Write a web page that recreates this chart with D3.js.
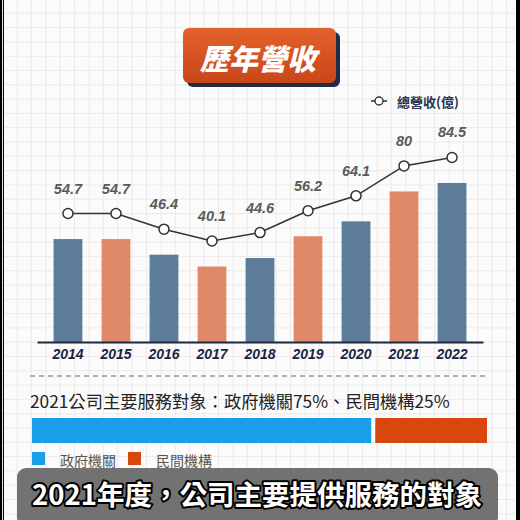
<!DOCTYPE html>
<html><head><meta charset="utf-8">
<script src="https://cdn.jsdelivr.net/npm/d3@7/dist/d3.min.js"></script>
<style>
html,body{margin:0;padding:0;background:#000;}
svg{display:block;}
</style></head>
<body>
<svg id="c" width="520" height="520"></svg>
<script>
const years = ["2014","2015","2016","2017","2018","2019","2020","2021","2022"];
const revenue = [54.7, 54.7, 46.4, 40.1, 44.6, 56.2, 64.1, 80, 84.5];
const barColors = ["#5d7c99", "#e0896a"];
const titleText = "歷年營收";
const legendText = "總營收(億)";
const shareTitle = "2021公司主要服務對象：政府機關75%、民間機構25%";
const shareNames = ["政府機關", "民間機構"];
const shareValues = [75, 25];
const shareColors = ["#1b9ee8", "#d9470f"];
const subtitle = "2021年度，公司主要提供服務的對象";

const svg = d3.select("#c");
const W = 520, H = 520;

// background card with grid
svg.append("rect").attr("x",0).attr("y",0).attr("width",W).attr("height",H).attr("fill","#000");
svg.append("rect").attr("x",4).attr("y",0).attr("width",512).attr("height",H).attr("fill","#fbfbfb");
const grid = svg.append("g").attr("stroke","#ebebeb").attr("stroke-width",1);
d3.range(2.5, 516, 14.4).forEach(x => grid.append("line").attr("x1",x).attr("x2",x).attr("y1",0).attr("y2",H));
d3.range(-1, H, 14.3).forEach(y => grid.append("line").attr("x1",4).attr("x2",516).attr("y1",y).attr("y2",y));

// title badge
const defs = svg.append("defs");
const tg = defs.append("linearGradient").attr("id","tg").attr("x1",0).attr("y1",0).attr("x2",0).attr("y2",1);
tg.append("stop").attr("offset","0%").attr("stop-color","#e2622a");
tg.append("stop").attr("offset","100%").attr("stop-color","#c9461a");
svg.append("rect").attr("x",187).attr("y",32).attr("width",153).attr("height",55).attr("rx",6).attr("fill","#1f2c48");
svg.append("rect").attr("x",183).attr("y",28).attr("width",153).attr("height",55).attr("rx",6).attr("fill","url(#tg)");
svg.append("text").attr("x",258).attr("y",57).attr("text-anchor","middle").attr("dominant-baseline","central")
  .attr("font-family","'Noto Sans CJK TC'").attr("font-weight",900).attr("font-style","italic")
  .attr("font-size",29).attr("fill","#fff").text(titleText);

// scales
const x = d3.scaleBand().domain(years).range([37, 483]).paddingInner(0.4).paddingOuter(0.345);
const y = d3.scaleLinear().domain([0, 100]).range([342, 342 - 188.2]);
const lineOffset = 25.5;

// bars
svg.append("g").selectAll("rect").data(years).join("rect")
  .attr("x", d => x(d)).attr("width", x.bandwidth())
  .attr("y", (d,i) => y(revenue[i])).attr("height", (d,i) => y(0) - y(revenue[i]))
  .attr("fill", (d,i) => barColors[i % 2]);

// axis
const ax = svg.append("g").attr("transform", `translate(0,${y(0)})`)
  .call(d3.axisBottom(x).tickSize(0).tickSizeOuter(0).tickPadding(7));
ax.select(".domain").attr("stroke","#1c2742").attr("stroke-width",2);
ax.selectAll("text").attr("font-family","'Liberation Sans', Arial, sans-serif").attr("font-size",14)
  .attr("font-weight","bold").attr("font-style","italic").attr("fill","#1a2540");

// line
const cx = d => x(d) + x.bandwidth()/2;
const ly = i => y(revenue[i]) - lineOffset;
const line = d3.line().x(d => cx(d)).y((d,i) => ly(i));
svg.append("path").datum(years).attr("d", line).attr("fill","none").attr("stroke","#333").attr("stroke-width",1.6);
svg.append("g").selectAll("circle").data(years).join("circle")
  .attr("cx", d => cx(d)).attr("cy", (d,i) => ly(i)).attr("r",5)
  .attr("fill","#fff").attr("stroke","#333").attr("stroke-width",1.5);
svg.append("g").selectAll("text").data(years).join("text")
  .attr("x", d => cx(d)).attr("y", (d,i) => ly(i) - 25).attr("text-anchor","middle").attr("dominant-baseline","central")
  .attr("font-family","'Liberation Sans', Arial, sans-serif").attr("font-size",14.5).attr("font-weight","bold")
  .attr("font-style","italic").attr("fill","#5a5a5a").text((d,i) => revenue[i]);

// legend
svg.append("line").attr("x1",371).attr("x2",387).attr("y1",101).attr("y2",101).attr("stroke","#333").attr("stroke-width",1.5);
svg.append("circle").attr("cx",379).attr("cy",101).attr("r",4).attr("fill","#fff").attr("stroke","#333").attr("stroke-width",1.4);
svg.append("text").attr("x",397).attr("y",101).attr("dominant-baseline","central")
  .attr("font-family","'Noto Sans CJK TC'").attr("font-weight","bold").attr("font-size",13)
  .attr("fill","#263352").text(legendText);

// dashed separator
svg.append("line").attr("x1",30).attr("x2",486).attr("y1",376).attr("y2",376)
  .attr("stroke","#666").attr("stroke-width",1).attr("stroke-dasharray","5,4");

// share section
svg.append("text").attr("x",30).attr("y",400).attr("dominant-baseline","central")
  .attr("font-family","'Noto Sans CJK TC'").attr("font-size",17.3).attr("fill","#222").text(shareTitle);

const total = d3.sum(shareValues);
const sx = d3.scaleLinear().domain([0, total]).range([32, 487]);
let acc = 0;
const segs = shareValues.map((v,i) => { const s = {v, i, x0: acc}; acc += v; return s; });
svg.append("g").selectAll("rect").data(segs).join("rect")
  .attr("x", d => sx(d.x0) + (d.i ? 2 : 0)).attr("y",418)
  .attr("width", d => sx(d.x0 + d.v) - sx(d.x0) - 2).attr("height",25)
  .attr("fill", d => shareColors[d.i]);

const legX = [32, 128];
shareNames.forEach((n,i) => {
  svg.append("rect").attr("x",legX[i]).attr("y",452).attr("width",13).attr("height",13).attr("fill",shareColors[i]);
  svg.append("text").attr("x",legX[i]+28).attr("y",460).attr("dominant-baseline","central")
    .attr("font-family","'Noto Sans CJK TC'").attr("font-size",14).attr("fill","#555").text(n);
});

// subtitle overlay
svg.append("rect").attr("x",17).attr("y",468).attr("width",481).attr("height",58).attr("rx",9)
  .attr("fill","#6a6a6a").attr("fill-opacity",0.95);
svg.append("text").attr("x",257).attr("y",493).attr("text-anchor","middle").attr("dominant-baseline","central")
  .attr("font-family","'Noto Sans CJK TC'").attr("font-weight","bold").attr("font-size",27.5)
  .attr("fill","#fff").attr("stroke","#000").attr("stroke-width",4).attr("paint-order","stroke")
  .attr("stroke-linejoin","round").text(subtitle);
</script>
</body></html>
